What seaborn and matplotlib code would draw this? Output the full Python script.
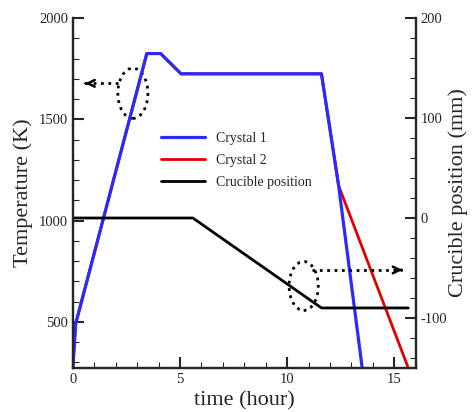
import seaborn as sns
import numpy as np
import pandas as pd
import matplotlib.pyplot as plt
from matplotlib.patches import Ellipse
from matplotlib.ticker import MultipleLocator

# values
time_c1 = [0, 0.13, 3.45, 4.1, 5.05, 11.6, 12.4, 13.5]
temp_c1 = [273, 490, 1825, 1825, 1725, 1725, 1173, 273]
time_c2 = [0, 0.13, 3.45, 4.1, 5.05, 11.6, 12.4, 15.65]
temp_c2 = [273, 490, 1825, 1825, 1725, 1725, 1173, 273]
time_cr = [0, 5.6, 11.6, 15.65]
pos_cr = [0, 0, -90, -90]

c1 = pd.DataFrame({'time': time_c1, 'temp': temp_c1})
c2 = pd.DataFrame({'time': time_c2, 'temp': temp_c2})
cr = pd.DataFrame({'time': time_cr, 'pos': pos_cr})

sns.set_style('ticks')
plt.rcParams['font.family'] = ['Liberation Serif', 'DejaVu Serif']
plt.rcParams['axes.unicode_minus'] = False

fig = plt.figure(figsize=(4.73, 4.12), dpi=100)
ax = fig.add_axes([0.154, 0.107, 0.725, 0.849])
ax2 = ax.twinx()

# red first so blue sits on top where they overlap
sns.lineplot(data=c2, x='time', y='temp', ax=ax, color='#e00000', lw=2,
             estimator=None, label='Crystal 2')
sns.lineplot(data=c1, x='time', y='temp', ax=ax, color='#2a2aff', lw=2.3,
             estimator=None, label='Crystal 1')
sns.lineplot(data=cr, x='time', y='pos', ax=ax2, color='black', lw=2,
             estimator=None, label='Crucible position')

ax.set_xlim(0, 16)
ax.set_ylim(273, 2000)
ax2.set_ylim(-150, 200)

ax.set_xticks([0, 5, 10, 15])
ax.set_yticks([500, 1000, 1500, 2000])
ax2.set_yticks([-100, 0, 100, 200])
ax.xaxis.set_minor_locator(MultipleLocator(1))
ax.yaxis.set_minor_locator(MultipleLocator(100))
ax2.yaxis.set_minor_locator(MultipleLocator(20))

for a in (ax, ax2):
    a.spines['top'].set_visible(False)
    for s in a.spines.values():
        s.set_linewidth(1.6)
    a.tick_params(which='major', direction='in', length=8, width=1.5, labelsize=10.5)
    a.tick_params(which='minor', direction='in', length=4, width=0.8)

ax.set_xlabel('time (hour)', fontsize=16)
ax.set_ylabel('Temperature (K)', fontsize=16)
ax2.set_ylabel('Crucible position (mm)', fontsize=16, labelpad=1)

# legend combining both axes
ax.get_legend().remove()
ax2.get_legend().remove()
h1, l1 = ax.get_legend_handles_labels()
h2, l2 = ax2.get_legend_handles_labels()
order = [1, 0]
handles = [h1[i] for i in order] + h2
labels = [l1[i] for i in order] + l2
ax2.legend(handles, labels, loc='upper left', bbox_to_anchor=(0.22, 0.71),
           frameon=False, fontsize=10, handlelength=3.2, labelspacing=0.65)

# dotted ellipses with arrows pointing to the relevant axis
ax.add_patch(Ellipse((2.8, 1629), 1.4, 248, fill=False, ls=':', lw=2, color='black'))
ax.plot([2.1, 0.6], [1678, 1678], ls=':', lw=2, color='black')
ax.annotate('', xy=(0.45, 1678), xytext=(0.75, 1678),
            arrowprops=dict(arrowstyle='->', lw=1.8, color='black', mutation_scale=12))

ax2.add_patch(Ellipse((10.77, -68), 1.36, 49, fill=False, ls=':', lw=2, color='black'))
ax2.plot([11.15, 15.35], [-52, -52], ls=':', lw=2, color='black')
ax2.annotate('', xy=(15.5, -52), xytext=(15.2, -52),
             arrowprops=dict(arrowstyle='->', lw=1.8, color='black', mutation_scale=12))

fig.savefig('out.png', dpi=100)
